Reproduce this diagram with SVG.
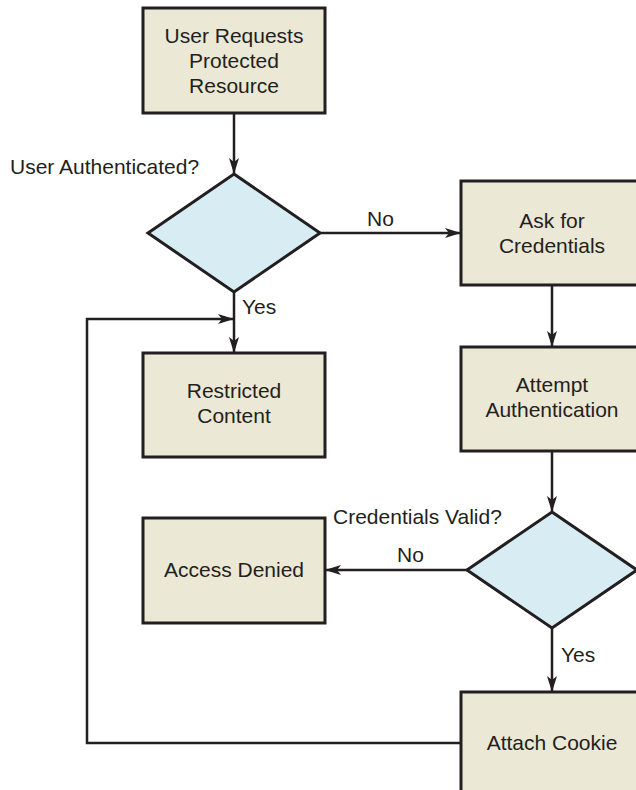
<svg xmlns="http://www.w3.org/2000/svg" width="636" height="790" viewBox="0 0 636 790">
  <style>
    .box { fill: #ebe8d5; stroke: #231f20; stroke-width: 3; }
    .dec { fill: #d7ecf3; stroke: #231f20; stroke-width: 3; stroke-linejoin: miter; }
    .lbl { font-family: "Liberation Sans", Arial, Helvetica, sans-serif; font-size: 21px; fill: #231f20; }
    .mid { text-anchor: middle; }
    .wire { fill: none; stroke: #231f20; stroke-width: 2.5; }
  </style>
  <defs>
    <marker id="arrow" viewBox="0 -5 16 10" markerWidth="16" markerHeight="10" refX="15" refY="0" orient="auto" markerUnits="userSpaceOnUse">
      <path d="M0,-5 L16,0 L0,5 L4,0 z" fill="#231f20"/>
    </marker>
  </defs>

  <rect width="636" height="790" fill="#ffffff"/>

  <!-- connectors -->
  <g id="connectors">
    <path class="wire" d="M234,113 V173" marker-end="url(#arrow)"/>
    <path class="wire" d="M320,233 H460" marker-end="url(#arrow)"/>
    <path class="wire" d="M552,285 V346" marker-end="url(#arrow)"/>
    <path class="wire" d="M552,451 V511" marker-end="url(#arrow)"/>
    <path class="wire" d="M467,570 H326" marker-end="url(#arrow)"/>
    <path class="wire" d="M552,628 V691" marker-end="url(#arrow)"/>
    <path class="wire" d="M234,292 V352" marker-end="url(#arrow)"/>
    <path class="wire" d="M461,743 H87 V319 H233" marker-end="url(#arrow)"/>
    <text class="lbl" x="367" y="226">No</text>
    <text class="lbl" x="242" y="314">Yes</text>
    <text class="lbl" x="397" y="562">No</text>
    <text class="lbl" x="561" y="662">Yes</text>
  </g>

  <g id="request">
    <rect class="box" x="143" y="8" width="182" height="105"/>
    <text class="lbl mid" x="234" y="43">User Requests</text>
    <text class="lbl mid" x="234" y="68">Protected</text>
    <text class="lbl mid" x="234" y="93">Resource</text>
  </g>

  <g id="authenticated">
    <polygon class="dec" points="234,174 320,233 234,292 148,233"/>
    <text class="lbl" x="10" y="174">User Authenticated?</text>
  </g>

  <g id="ask">
    <rect class="box" x="461" y="181" width="182" height="104"/>
    <text class="lbl mid" x="552" y="228">Ask for</text>
    <text class="lbl mid" x="552" y="253">Credentials</text>
  </g>

  <g id="attempt">
    <rect class="box" x="461" y="347" width="182" height="104"/>
    <text class="lbl mid" x="552" y="392">Attempt</text>
    <text class="lbl mid" x="552" y="417">Authentication</text>
  </g>

  <g id="restricted">
    <rect class="box" x="143" y="353" width="182" height="104"/>
    <text class="lbl mid" x="234" y="398">Restricted</text>
    <text class="lbl mid" x="234" y="423">Content</text>
  </g>

  <g id="valid">
    <polygon class="dec" points="552,512 637,570 552,628 467,570"/>
    <text class="lbl" x="333" y="524">Credentials Valid?</text>
  </g>

  <g id="denied">
    <rect class="box" x="143" y="518" width="182" height="105"/>
    <text class="lbl mid" x="234" y="577">Access Denied</text>
  </g>

  <g id="cookie">
    <rect class="box" x="461" y="692" width="182" height="106"/>
    <text class="lbl mid" x="552" y="750">Attach Cookie</text>
  </g>
</svg>
